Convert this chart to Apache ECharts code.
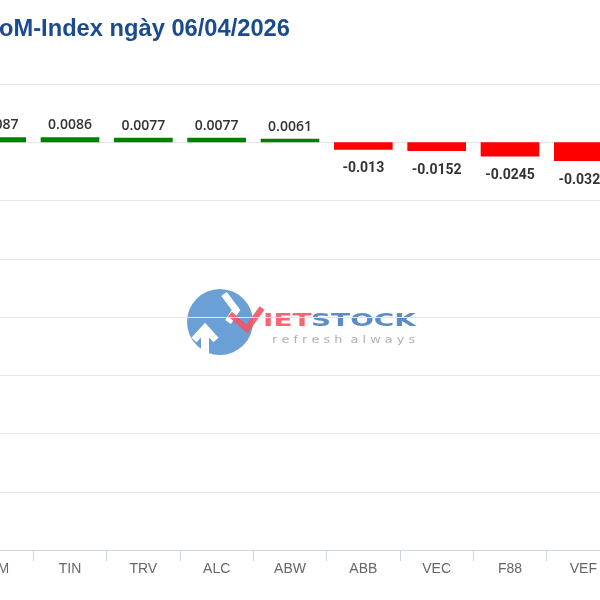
<!DOCTYPE html>
<html>
<head>
<meta charset="utf-8">
<script src="https://cdn.jsdelivr.net/npm/echarts@6/dist/echarts.min.js"></script>
<style>
html,body{margin:0;padding:0;background:#fff;overflow:hidden;width:600px;height:600px;}
#c{position:absolute;left:-100px;top:0;width:800px;height:600px;}
</style>
</head>
<body>
<div id="c"></div>
<script>
var titleText = 'oM-Index ngày 06/04/2026';
var categories = ['VIM', 'TIN', 'TRV', 'ALC', 'ABW', 'ABB', 'VEC', 'F88', 'VEF'];
var values = [0.0087, 0.0086, 0.0077, 0.0077, 0.0061, -0.013, -0.0152, -0.0245, -0.0324];
var yMin = -0.7, yMax = 0.1, yStep = 0.1;

var OX = 100; // page offset of the chart container

var chart = echarts.init(document.getElementById('c'), null, {renderer: 'canvas'});

var seriesData = values.map(function (v) {
  var pos = v >= 0;
  return {
    value: v,
    itemStyle: {color: pos ? '#008000' : '#ff0000'},
    label: {
      position: pos ? 'top' : 'bottom',
      distance: pos ? 5 : 12,
      fontFamily: pos ? 'Open Sans' : 'Roboto',
      fontWeight: pos ? 600 : 'bold'
    }
  };
});

chart.setOption({
  animation: false,
  backgroundColor: '#ffffff',
  graphic: [
    {
      type: 'text', x: OX - 1, y: 17, z: 10,
      style: {text: titleText, fill: '#1a4b8f', font: 'bold 23.7px "Liberation Sans", Arial, sans-serif'}
    },
    {
      type: 'group', z: -10, silent: true, x: OX,
      children: [
        {type: 'circle', shape: {cx: 220, cy: 322, r: 33}, style: {fill: '#5a96d2', opacity: 0.9}},
        {type: 'polyline', shape: {points: [[205, 356], [205, 330]]}, style: {stroke: '#ffffff', lineWidth: 8, fill: null}},
        {type: 'polyline', shape: {points: [[194, 340], [205, 328], [216, 340]]}, style: {stroke: '#ffffff', lineWidth: 7, fill: null}},
        {type: 'polyline', shape: {points: [[224, 294], [236, 310], [228, 322]]}, style: {stroke: '#ffffff', lineWidth: 7, fill: null}},
        {type: 'polyline', shape: {points: [[230, 314], [247, 329], [262, 308]]}, style: {stroke: '#f25563', lineWidth: 6, fill: null, opacity: 0.9}},
        {type: 'text', x: 263, y: 321, scaleX: 1.55, style: {text: 'IET', fill: '#f25563', font: 'bold 18px "DejaVu Sans", sans-serif', verticalAlign: 'middle', opacity: 0.9}},
        {type: 'text', x: 311, y: 321, scaleX: 1.55, style: {text: 'STOCK', fill: '#4a7fc1', font: 'bold 18px "DejaVu Sans", sans-serif', verticalAlign: 'middle', opacity: 0.9}},
        {type: 'text', x: 272, y: 340, scaleX: 1.17, style: {text: 'r e f r e s h  a l w a y s', fill: '#b0b0b0', font: '11px "DejaVu Sans", sans-serif', verticalAlign: 'middle'}}
      ]
    }
  ],
  grid: {left: 60, right: 80, top: 84, bottom: 50, containLabel: false},
  xAxis: {
    type: 'category',
    data: categories,
    axisLine: {onZero: false, lineStyle: {color: '#ccd6eb', width: 1}},
    axisTick: {show: true, length: 11, lineStyle: {color: '#ccd6eb'}},
    axisLabel: {color: '#666666', fontSize: 14, margin: 12, fontFamily: 'Liberation Sans, Arial, sans-serif'},
    splitLine: {show: false}
  },
  yAxis: {
    type: 'value',
    min: yMin, max: yMax, interval: yStep,
    axisLabel: {show: false},
    axisLine: {show: false},
    axisTick: {show: false},
    splitLine: {lineStyle: {color: '#e6e6e6', width: 1}}
  },
  series: [{
    type: 'bar',
    data: seriesData,
    barCategoryGap: '20%',
    label: {
      show: true,
      color: '#333333',
      fontSize: 14,
      formatter: function (p) { return String(p.value); }
    }
  }]
});
</script>
</body>
</html>
